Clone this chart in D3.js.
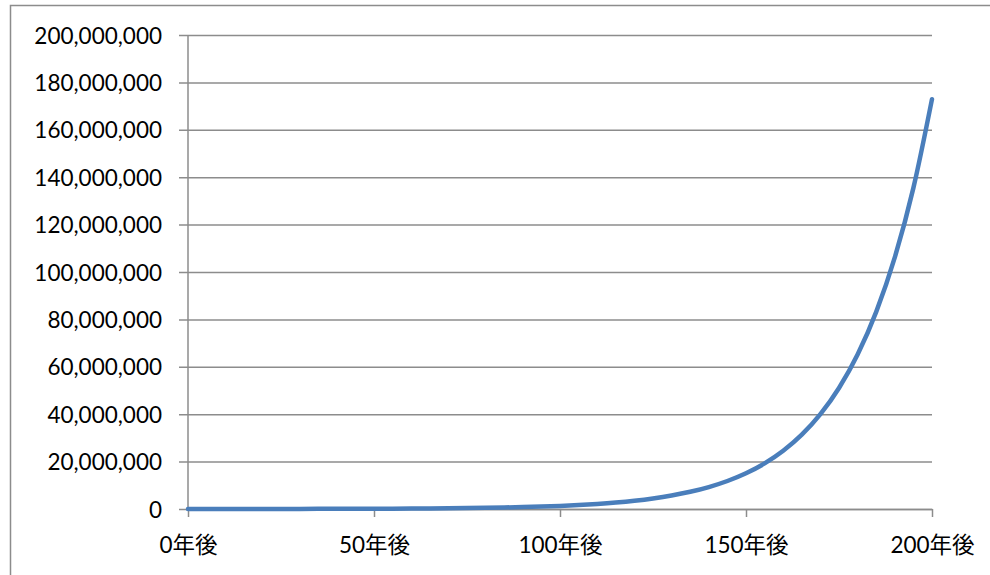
<!DOCTYPE html>
<html>
<head>
<meta charset="utf-8">
<script src="https://cdn.jsdelivr.net/npm/d3@7"></script>
<style>
  body { margin: 0; background: #fff; }
  svg { display: block; }
  text { font-family: Lato, "Noto Sans CJK JP", sans-serif; fill: #000; }
</style>
</head>
<body>
<svg id="chart" width="990" height="575"></svg>
<script>
// years after start, read every 5 years
const years = [0, 5, 10, 15, 20, 25, 30, 35, 40, 45, 50, 55, 60, 65, 70, 75, 80, 85, 90, 95,
  100, 105, 110, 115, 120, 125, 130, 135, 140, 145, 150, 155, 160, 165, 170, 175, 180, 185, 190, 195, 200];
const amounts = [10000, 12760, 16290, 20790, 26530, 33860, 43220, 55160, 70400, 89850,
  114670, 146350, 186790, 238390, 304260, 388320, 495600, 632500, 807300, 1030300,
  1315000, 1678300, 2141900, 2733700, 3489000, 4453000, 5683200, 7253500, 9257500, 11815000,
  15080000, 19240000, 24560000, 31350000, 40010000, 51060000, 65170000, 83180000, 106160000, 135490000, 172930000];
const yTicks = [0, 20000000, 40000000, 60000000, 80000000, 100000000, 120000000, 140000000, 160000000, 180000000, 200000000];
const xTicks = [0, 50, 100, 150, 200];
const xTickLabels = ["0年後", "50年後", "100年後", "150年後", "200年後"];

const svg = d3.select("#chart");

// outer chart border
svg.append("rect")
  .attr("x", 10.5).attr("y", 5.5)
  .attr("width", 1000).attr("height", 600)
  .attr("fill", "none")
  .attr("stroke", "#8c8c8c")
  .attr("stroke-width", 1.5);

const x = d3.scaleLinear().domain([0, 200]).range([188, 932]);
const y = d3.scaleLinear().domain([0, 200000000]).range([509, 35]);

// gridlines + y labels
const fmt = d3.format(",");
const yAxis = d3.axisLeft(y)
  .tickValues(yTicks)
  .tickSize(-(932 - 179))
  .tickFormat(d => fmt(d));

const gy = svg.append("g").attr("transform", "translate(179,0)").call(yAxis);
gy.select(".domain").remove();
gy.selectAll(".tick line").attr("stroke", "#8c8c8c").attr("stroke-width", 1.5);
gy.selectAll(".tick text").attr("font-size", 22.5).attr("x", -17).attr("dy", "0.36em");

// y axis line
svg.append("line")
  .attr("x1", x(0)).attr("x2", x(0))
  .attr("y1", y(200000000)).attr("y2", y(0))
  .attr("stroke", "#8c8c8c").attr("stroke-width", 1.5);

// x axis
const xAxis = d3.axisBottom(x)
  .tickValues(xTicks)
  .tickSize(8)
  .tickSizeOuter(0)
  .tickFormat((d, i) => xTickLabels[i]);

const gx = svg.append("g").attr("transform", `translate(0,${y(0)})`).call(xAxis);
gx.select(".domain").attr("stroke", "#8c8c8c").attr("stroke-width", 1.5);
gx.selectAll(".tick line").attr("stroke", "#8c8c8c").attr("stroke-width", 1.5);
gx.selectAll(".tick text").attr("font-size", 22.5).attr("y", 36).attr("dy", "0.36em");

// series line
const line = d3.line()
  .x((d, i) => x(years[i]))
  .y(d => y(d))
  .curve(d3.curveMonotoneX);

svg.append("path")
  .datum(amounts)
  .attr("d", line)
  .attr("fill", "none")
  .attr("stroke", "#4a7ebb")
  .attr("stroke-width", 4.5)
  .attr("stroke-linecap", "round");
</script>
</body>
</html>
